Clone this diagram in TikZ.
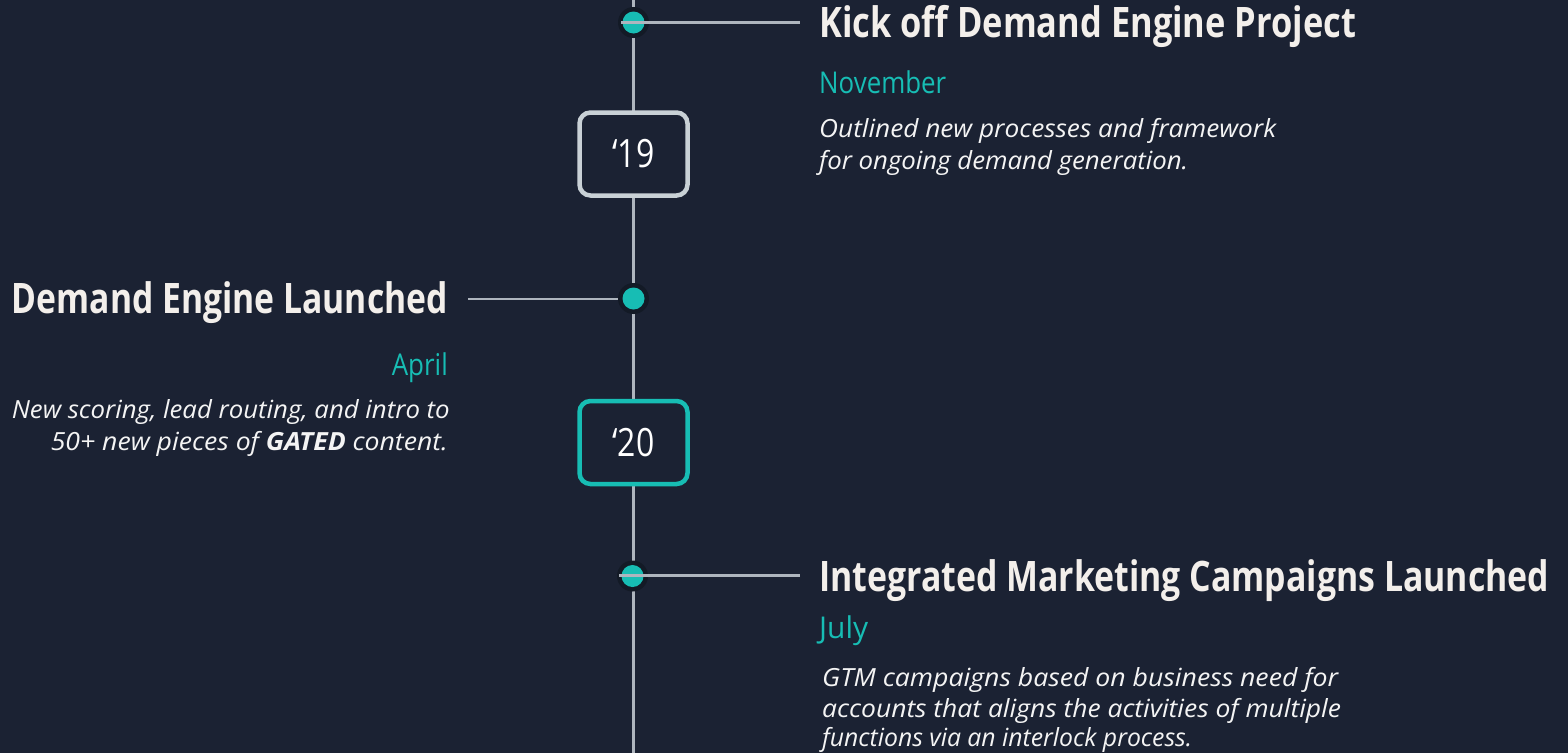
\documentclass[tikz,border=0pt]{standalone}
\usepackage{fontspec}
\setmainfont{Open Sans}
\usepackage{graphicx}
\definecolor{bg}{HTML}{1B2233}
\definecolor{teal}{HTML}{17BDB4}
\definecolor{linegray}{HTML}{AEB5BE}
\definecolor{boxgray}{HTML}{C9D1D6}
\definecolor{ringc}{HTML}{131A26}
\definecolor{titlec}{HTML}{F3EFEB}
\definecolor{descc}{HTML}{F4F4F4}
\newcommand\fitw[2]{\resizebox{#1}{\height}{#2}}
\begin{document}
\begin{tikzpicture}[x=1pt,y=-1pt,
  conn/.style={draw=linegray,line width=2.6pt},
  ring/.style={circle,fill=ringc,minimum size=31pt,inner sep=0pt},
  dotc/.style={circle,fill=teal,minimum size=22pt,inner sep=0pt},
  yearbox/.style={rectangle,rounded corners=11pt,line width=4.5pt,fill=bg,
     minimum width=108pt,minimum height=83pt,inner sep=0pt,text=white,
     font=\fontsize{39}{39}\selectfont},
  title/.style={inner sep=0pt,text=titlec,font=\fontsize{42}{42}\selectfont\bfseries},
  month/.style={inner sep=0pt,text=teal,font=\fontsize{30}{30}\selectfont},
  desc/.style={inner sep=0pt,text=descc,font=\fontsize{25}{25}\selectfont\itshape}]
\fill[bg] (0,0) rectangle (1568,753);
\useasboundingbox (0,0) rectangle (1568,753);
% timeline
\coordinate (top) at (633.5,0);
\coordinate (bot) at (633.5,753);
\draw[conn] (top) -- (bot);
% horizontal connector under ring 2
\coordinate (e2) at (468,299);
\coordinate (c2) at (633.5,299);
\draw[conn] (e2) -- (c2);
% dots
\node[ring] (r1) at (633.5,22.5) {};
\node[dotc] (d1) at (r1) {};
\node[ring] (r2) at (633.5,298.5) {};
\node[dotc] (d2) at (r2) {};
\node[ring] (r3) at (632.5,576) {};
\node[dotc] (d3) at (r3) {};
% connectors over dots 1 and 3
\coordinate (s1) at (621,22.3);
\coordinate (e1) at (800,22.3);
\draw[conn] (s1) -- (e1);
\coordinate (s3) at (619,575.5);
\coordinate (e3) at (800,575.5);
\draw[conn] (s3) -- (e3);
% year boxes
\node[yearbox,draw=boxgray] (y19) at (633.5,154) {\fitw{42pt}{‘19}};
\node[yearbox,draw=teal] (y20) at (633.5,442.5) {\fitw{42pt}{‘20}};
% event 1
\node[title,anchor=base west] (t1) at (819,37) {\fitw{537pt}{Kick off Demand Engine Project}};
\node[month,anchor=base west] (m1) at (819,93) {\fitw{127pt}{November}};
\node[desc,anchor=base west] (a1) at (819,137) {\fitw{457pt}{Outlined new processes and framework}};
\node[desc,anchor=base west] (b1) at (819,169) {\fitw{369pt}{for ongoing demand generation.}};
% event 2
\node[title,anchor=base east] (t2) at (448,313) {\fitw{436pt}{Demand Engine Launched}};
\node[month,anchor=base east] (m2) at (448,375) {\fitw{56pt}{April}};
\node[desc,anchor=base east] (a2) at (450,418) {\fitw{438pt}{New scoring, lead routing, and intro to}};
\node[desc,anchor=base east] (b2) at (448,450) {\fitw{397pt}{50+ new pieces of \textbf{GATED} content.}};
% event 3
\node[title,anchor=base west] (t3) at (819,591) {\fitw{730pt}{Integrated Marketing Campaigns Launched}};
\node[month,anchor=base west] (m3) at (819,638) {\fitw{49pt}{July}};
\node[desc,anchor=base west] (a3) at (822,686) {\fitw{516pt}{GTM campaigns based on business need for}};
\node[desc,anchor=base west] (b3) at (822,717) {\fitw{519pt}{accounts that aligns the activities of multiple}};
\node[desc,anchor=base west] (c3) at (822,746) {\fitw{370pt}{functions via an interlock process.}};
\end{tikzpicture}
\end{document}
